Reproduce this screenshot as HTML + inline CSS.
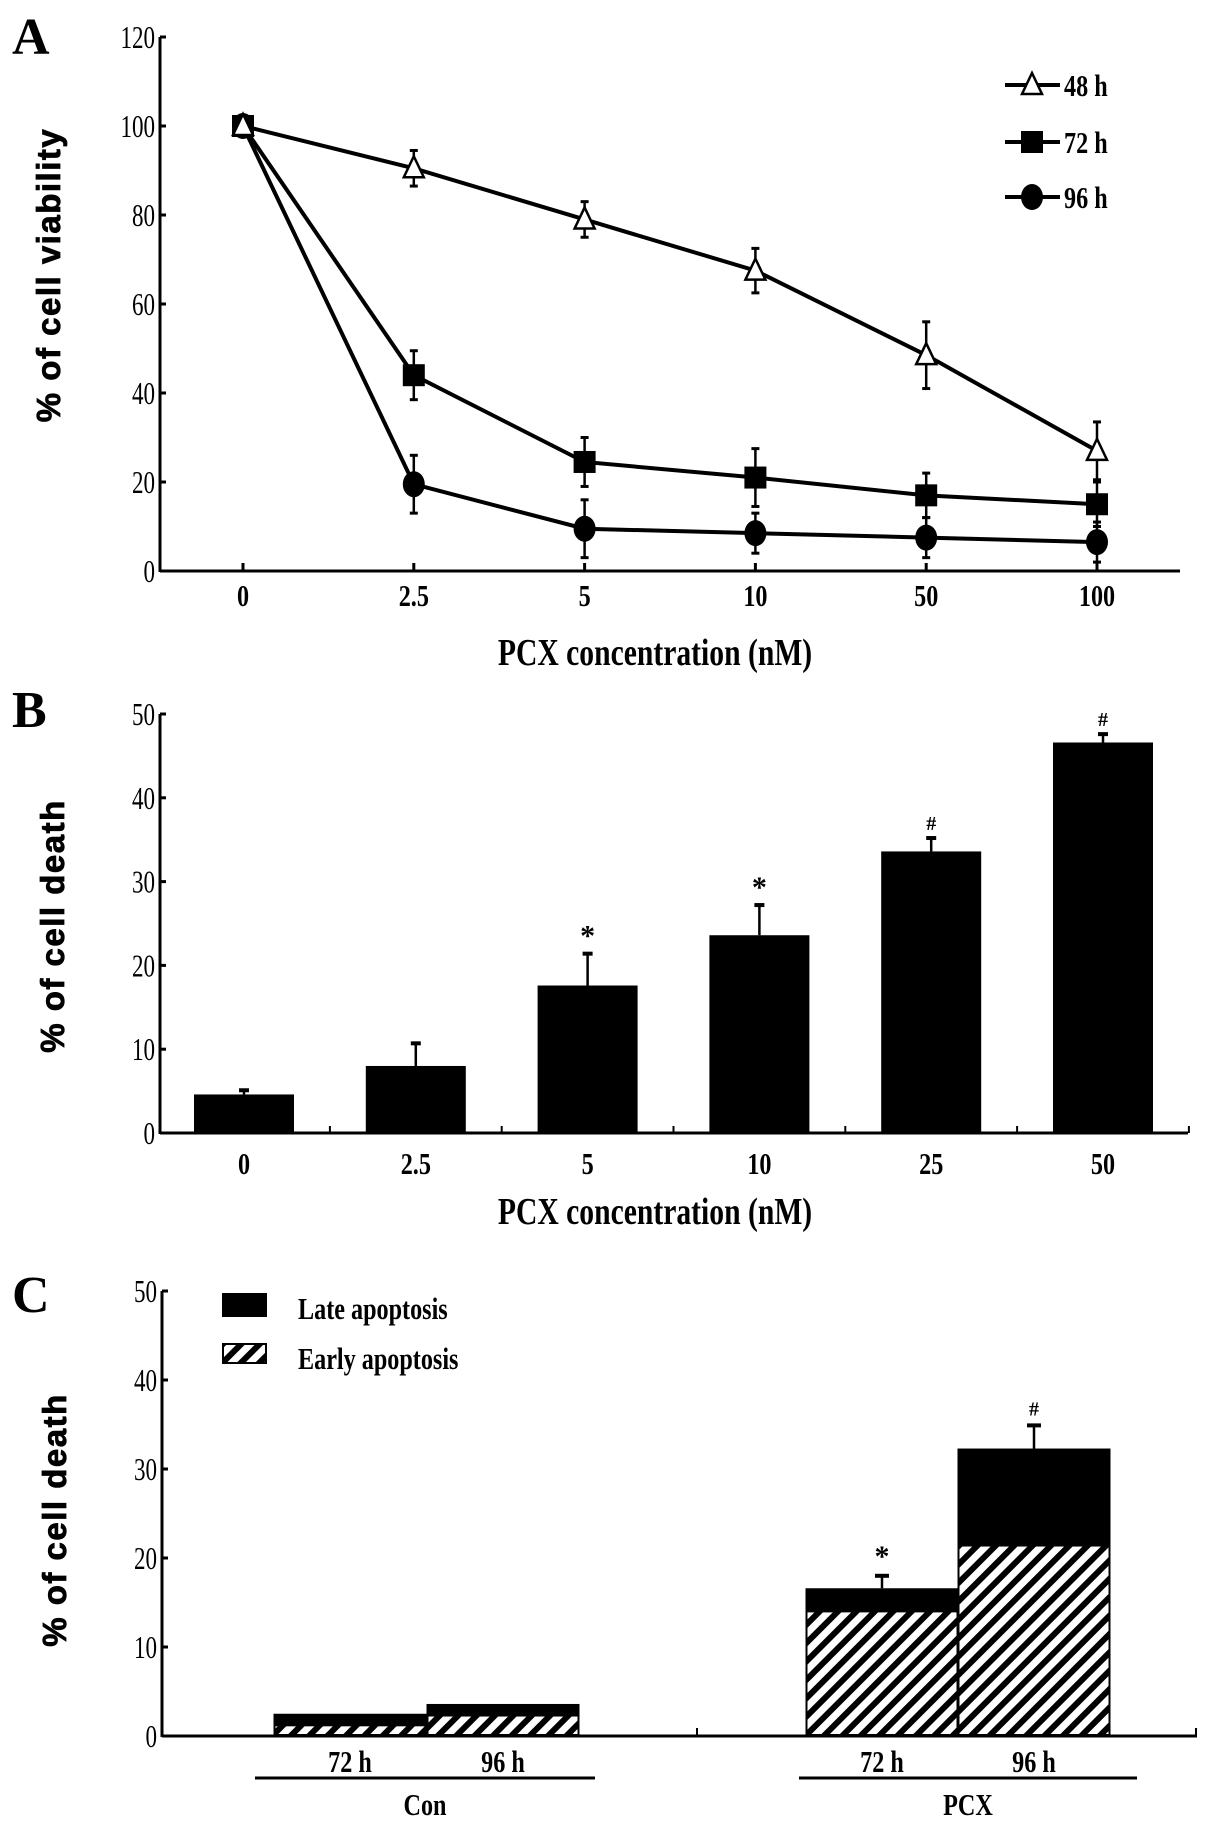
<!DOCTYPE html>
<html><head><meta charset="utf-8"><style>
html,body{margin:0;padding:0;background:#fff;}
svg{display:block;}
text{font-family:"Liberation Serif",serif;fill:#000;}
.tick{font-size:32px;}
.xl{font-size:31px;font-weight:bold;}
.ttl{font-size:38px;font-weight:bold;}
.yt{font-family:"Liberation Sans",sans-serif;font-size:33px;font-weight:900;letter-spacing:1.5px;stroke:#000;stroke-width:0.8px;}
.pl{font-size:52px;font-weight:bold;}
</style></head><body>
<svg id="fig" width="1205" height="1824" viewBox="0 0 1205 1824" xmlns="http://www.w3.org/2000/svg">
<defs><pattern id="hatch" patternUnits="userSpaceOnUse" width="13" height="13" patternTransform="rotate(45)"><rect width="13" height="13" fill="#fff"/><rect width="6" height="13" fill="#000"/></pattern></defs>
</svg>
<script>
// Panel A data
const aCats = ["0","2.5","5","10","50","100"];
const aTicks = [0,20,40,60,80,100,120];
const a48 = [100,90.5,79,67.5,48.5,27];
const a48e = [1,4,4,5,7.5,6.5];
const a72 = [100,44,24.5,21,17,15];
const a72e = [1,5.5,5.5,6.5,5,5];
const a96 = [100,19.5,9.5,8.5,7.5,6.5];
const a96e = [1,6.5,6.5,4.5,4.5,4.5];
// Panel B data
const bCats = ["0","2.5","5","10","25","50"];
const bTicks = [0,10,20,30,40,50];
const bVals = [4.6,8,17.6,23.6,33.6,46.6];
const bErr = [0.5,2.7,3.8,3.6,1.6,1];
const bMarks = ["","","*","*","#","#"];
// Panel C data
const cCats = ["72 h","96 h","72 h","96 h"];
const cGroups = ["Con","PCX"];
const cTicks = [0,10,20,30,40,50];
const cEarly = [1.2,2.3,14,21.4];
const cTotal = [2.5,3.6,16.6,32.3];
const cErr = [0,0,1.4,2.6];
const cMarks = ["","","*","#"];

const svg = document.getElementById('fig');
const NS = "http://www.w3.org/2000/svg";
function mk(tag, attrs, txt){const e=document.createElementNS(NS,tag);for(const k in attrs)e.setAttribute(k,attrs[k]);if(txt!==undefined)e.textContent=txt;svg.appendChild(e);return e;}
function line(x1,y1,x2,y2,w){return mk('line',{x1,y1,x2,y2,stroke:'#000','stroke-width':w||3});}
function ctext(x,y,cls,anchor,sx,txt){return mk('text',{x:0,y:0,class:cls,'text-anchor':anchor,transform:`translate(${x},${y}) scale(${sx},1)`},txt);}

// ---------- Panel A ----------
const A = {x0:160,x1:1180,y0:571,yTop:37,max:120};
const ayS = v => A.y0 - v/A.max*(A.y0-A.yTop);
const axPos = [243,413,585,758,927,1097];
const axS = i => axPos[0] + (axPos[5]-axPos[0])*i/(aCats.length-1);
let t=mk('text',{x:12,y:54,class:'pl'},'A');


let ax=line(A.x0,A.y0,A.x1,A.y0,3);

let ay=line(A.x0,A.y0+1,A.x0,A.yTop,3);

aTicks.forEach(v=>{line(A.x0,ayS(v),A.x0+6,ayS(v),3);
 const e=ctext(A.x0-5,ayS(v)+11,'tick','end',0.72,v);
 });
aCats.forEach((c,i)=>{line(axS(i),A.y0,axS(i),A.y0-8,3);
 const e=ctext(axS(i),606,'xl','middle',0.78,c);
 });
t=ctext(655,665,'ttl','middle',0.78,'PCX concentration (nM)');

t=mk('text',{x:0,y:0,class:'yt','text-anchor':'middle',transform:'translate(60,275) rotate(-90)'},'% of cell viability');

function marker(kind,x,y,name){let e;
 if(kind==='tri') e=mk('polygon',{points:`${x},${y-12} ${x-10},${y+9} ${x+10},${y+9}`,fill:'#fff',stroke:'#000','stroke-width':2.5});
 else if(kind==='sq') e=mk('rect',{x:x-11,y:y-11,width:22,height:22,fill:'#000'});
 else e=mk('ellipse',{cx:x,cy:y,rx:11,ry:13,fill:'#000'});
 }
function series(vals,errs,kind,w,name){
 vals.forEach((v,i)=>{const x=axS(i);line(x,ayS(v),x,ayS(v+errs[i]),2.5);line(x-4,ayS(v+errs[i]),x+4,ayS(v+errs[i]),3);
  line(x,ayS(v),x,ayS(v-errs[i]),2.5);line(x-4,ayS(v-errs[i]),x+4,ayS(v-errs[i]),3);});
 const p=mk('polyline',{points:vals.map((v,i)=>axS(i)+','+ayS(v)).join(' '),fill:'none',stroke:'#000','stroke-width':w});
 
 vals.forEach((v,i)=>marker(kind,axS(i),ayS(v),name+'-point'));}
series(a96,a96e,'circ',4,'series-96h');
series(a72,a72e,'sq',4,'series-72h');
series(a48,a48e,'tri',4,'series-48h');
[['tri','48 h',85],['sq','72 h',142],['circ','96 h',197]].forEach(([k,l,y])=>{
 line(1005,y,1060,y,4);marker(k,1032,y,'legend-marker');
 const e=ctext(1064,y+11,'xl','start',0.78,l);
 });

// ---------- Panel B ----------
const B = {x0:160,x1:1188,y0:1133,yTop:714,max:50};
const byS = v => B.y0 - v/B.max*(B.y0-B.yTop);
const bxPos0=244, bxStep=(1103-244)/5;
const bxS = i => bxPos0 + bxStep*i;
t=mk('text',{x:12,y:727,class:'pl'},'B');
ax=line(B.x0,B.y0,B.x1,B.y0,3);
ay=line(B.x0,B.y0+1,B.x0,B.yTop,3);
bTicks.forEach(v=>{line(B.x0,byS(v),B.x0+6,byS(v),3);
 const e=ctext(B.x0-5,byS(v)+11,'tick','end',0.72,v);
 });
for(let i=1;i<=6;i++){const x=bxS(i-0.5);line(x,B.y0,x,B.y0-7,2);}
bCats.forEach((c,i)=>{const x=bxS(i);
 line(x,byS(bVals[i]),x,byS(bVals[i]+bErr[i]),2.5);line(x-5,byS(bVals[i]+bErr[i]),x+5,byS(bVals[i]+bErr[i]),4);
 const r=mk('rect',{x:x-50,y:byS(bVals[i]),width:100,height:B.y0-byS(bVals[i]),fill:'#000'});
 
 if(bMarks[i]){const m=mk('text',{x:x,y:byS(bVals[i]+bErr[i])-8,'font-size':bMarks[i]==='*'?30:20,'font-weight':'bold','text-anchor':'middle'},bMarks[i]);
  }
 const e=ctext(x,1174,'xl','middle',0.78,c);
 });
t=ctext(655,1224,'ttl','middle',0.78,'PCX concentration (nM)');

t=mk('text',{x:0,y:0,class:'yt','text-anchor':'middle',transform:'translate(64,926) rotate(-90)'},'% of cell death');


// ---------- Panel C ----------
const C = {x0:162,x1:1197,y0:1736,yTop:1291,max:50};
const cyS = v => C.y0 - v/C.max*(C.y0-C.yTop);
const cxPos=[350,503,882,1034];
const cw=153;
t=mk('text',{x:12,y:1312,class:'pl'},'C');
ax=line(C.x0,C.y0,C.x1,C.y0,3);
ay=line(C.x0,C.y0+1,C.x0,C.yTop,3);
line(697,C.y0,697,C.y0-8,2);line(1196,C.y0,1196,C.y0-8,2);
cTicks.forEach(v=>{line(C.x0,cyS(v),C.x0+6,cyS(v),3);
 const e=ctext(C.x0-5,cyS(v)+11,'tick','end',0.72,v);
 });
cCats.forEach((c,i)=>{const x=cxPos[i];
 if(cErr[i]){line(x,cyS(cTotal[i]),x,cyS(cTotal[i]+cErr[i]),2.5);line(x-7,cyS(cTotal[i]+cErr[i]),x+7,cyS(cTotal[i]+cErr[i]),4);}
 const r1=mk('rect',{x:x-cw/2,y:cyS(cTotal[i]),width:cw,height:cyS(cEarly[i])-cyS(cTotal[i]),fill:'#000'});
 
 const r2=mk('rect',{x:x-cw/2+1,y:cyS(cEarly[i]),width:cw-2,height:C.y0-cyS(cEarly[i])-1,fill:'url(#hatch)',stroke:'#000','stroke-width':2});
 
 if(cMarks[i]){const m=mk('text',{x:x,y:cyS(cTotal[i]+cErr[i])-10,'font-size':cMarks[i]==='*'?30:20,'font-weight':'bold','text-anchor':'middle'},cMarks[i]);
  }
 const e=ctext(x,1772,'xl','middle',0.78,c);
 });
[[255,595],[799,1137]].forEach((r,i)=>{line(r[0],1778,r[1],1778,3);
 const e=ctext((r[0]+r[1])/2,1815,'xl','middle',0.78,cGroups[i]);
 });
t=mk('text',{x:0,y:0,class:'yt','text-anchor':'middle',transform:'translate(66,1520) rotate(-90)'},'% of cell death');

let lb=mk('rect',{x:222,y:1293,width:45,height:24,fill:'#000'});

lb=mk('rect',{x:223,y:1344,width:43,height:19,fill:'url(#hatch)',stroke:'#000','stroke-width':2});

t=ctext(298,1319,'xl','start',0.78,'Late apoptosis');
t=ctext(298,1369,'xl','start',0.78,'Early apoptosis');
</script>
</body></html>
